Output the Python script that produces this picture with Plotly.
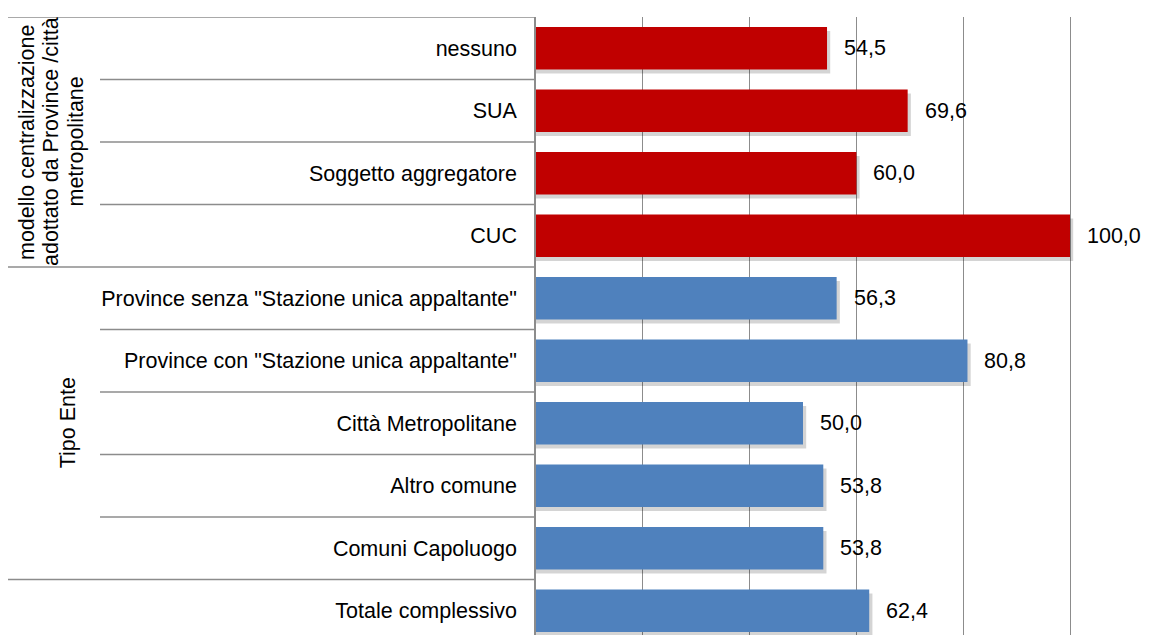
import plotly.graph_objects as go

# data, top row first
categories = [
    "nessuno",
    "SUA",
    "Soggetto aggregatore",
    "CUC",
    'Province senza "Stazione unica appaltante"',
    'Province con "Stazione unica appaltante"',
    "Città Metropolitane",
    "Altro comune",
    "Comuni Capoluogo",
    "Totale complessivo",
]
values = [54.5, 69.6, 60.0, 100.0, 56.3, 80.8, 50.0, 53.8, 53.8, 62.4]
groups = ["modello", "modello", "modello", "modello",
          "tipo", "tipo", "tipo", "tipo", "tipo", "totale"]
group_labels = {
    "modello": ["modello centralizzazione", "adottato da Province /città", "metropolitane"],
    "tipo": ["Tipo Ente"],
}

GROUP_COLORS = {"modello": "#C00000", "tipo": "#4F81BD", "totale": "#4F81BD"}
FONT = dict(family="Liberation Sans, Arial, sans-serif", size=21.5, color="#000000")
LINE_COLOR = "#8c8c8c"

W, H = 1161, 635
PAGE_PAD = 8          # the html body margin shifts the figure by this much
PLOT_L, PLOT_T = 536, 17   # on-screen position of the plot area
ROW_PX = 62.5
BAR_W = 0.68
GROUP_LINE_X = {"modello": [27, 51, 75.5], "tipo": [68]}  # screen px of each rotated line

margin_l = PLOT_L - PAGE_PAD
margin_t = PLOT_T - PAGE_PAD
plot_w = W - margin_l
plot_h = H - margin_t


def px_to_paper_x(px):
    # px is an on-screen x position
    return (px - PLOT_L) / plot_w


n = len(categories)
colors = [GROUP_COLORS[g] for g in groups]

fig = go.Figure()
# soft drop shadow behind the bars
fig.add_trace(go.Bar(
    y=categories, x=[v + 0.6 for v in values], orientation="h",
    width=BAR_W, offset=-BAR_W / 2 + 0.065,
    marker=dict(color="rgba(0,0,0,0.17)", line_width=0),
    hoverinfo="skip",
))
fig.add_trace(go.Bar(
    y=categories, x=values, orientation="h",
    width=BAR_W, offset=-BAR_W / 2,
    marker=dict(color=colors, line_width=0),
    hoverinfo="skip",
))

# value labels
for cat, v in zip(categories, values):
    fig.add_annotation(
        x=v, y=cat, xref="x", yref="y", text=f"{v:.1f}".replace(".", ","),
        showarrow=False, xanchor="left", xshift=15, font=FONT,
    )

# row separators in the label area
group_starts = {i for i in range(n) if i == 0 or groups[i] != groups[i - 1]}
for k in range(n + 1):
    outer = k in group_starts or k == n
    x0 = px_to_paper_x(8 if outer else 100)
    fig.add_shape(
        type="line", xref="paper", yref="y", x0=x0, x1=0, y0=k - 0.5, y1=k - 0.5,
        line=dict(color=LINE_COLOR, width=1.5),
    )

# group labels, rotated, one annotation per text line
for g, lines in group_labels.items():
    idx = [i for i, gg in enumerate(groups) if gg == g]
    for line, lx in zip(lines, GROUP_LINE_X[g]):
        fig.add_annotation(
            x=px_to_paper_x(lx), y=(idx[0] + idx[-1]) / 2, xref="paper", yref="y",
            text=line, showarrow=False, textangle=-90,
            xanchor="center", yanchor="middle", font=FONT,
        )

fig.update_layout(
    width=W, height=H,
    margin=dict(l=margin_l, r=0, t=margin_t, b=0),
    paper_bgcolor="white", plot_bgcolor="white",
    barmode="overlay", showlegend=False, font=FONT,
)
fig.update_xaxes(
    range=[0, plot_w / 5.34], dtick=20, tick0=0,
    showgrid=True, gridcolor=LINE_COLOR, gridwidth=1.2,
    zeroline=False, showticklabels=False, ticks="",
)
fig.update_yaxes(
    type="category", categoryorder="array", categoryarray=categories,
    range=[plot_h / ROW_PX - 0.5, -0.5],
    showgrid=False, zeroline=False,
    showline=True, linecolor=LINE_COLOR, linewidth=1.5,
    ticks="outside", ticklen=13, tickcolor="rgba(0,0,0,0)",
    tickfont=FONT,
)

fig.write_html("out.html")
